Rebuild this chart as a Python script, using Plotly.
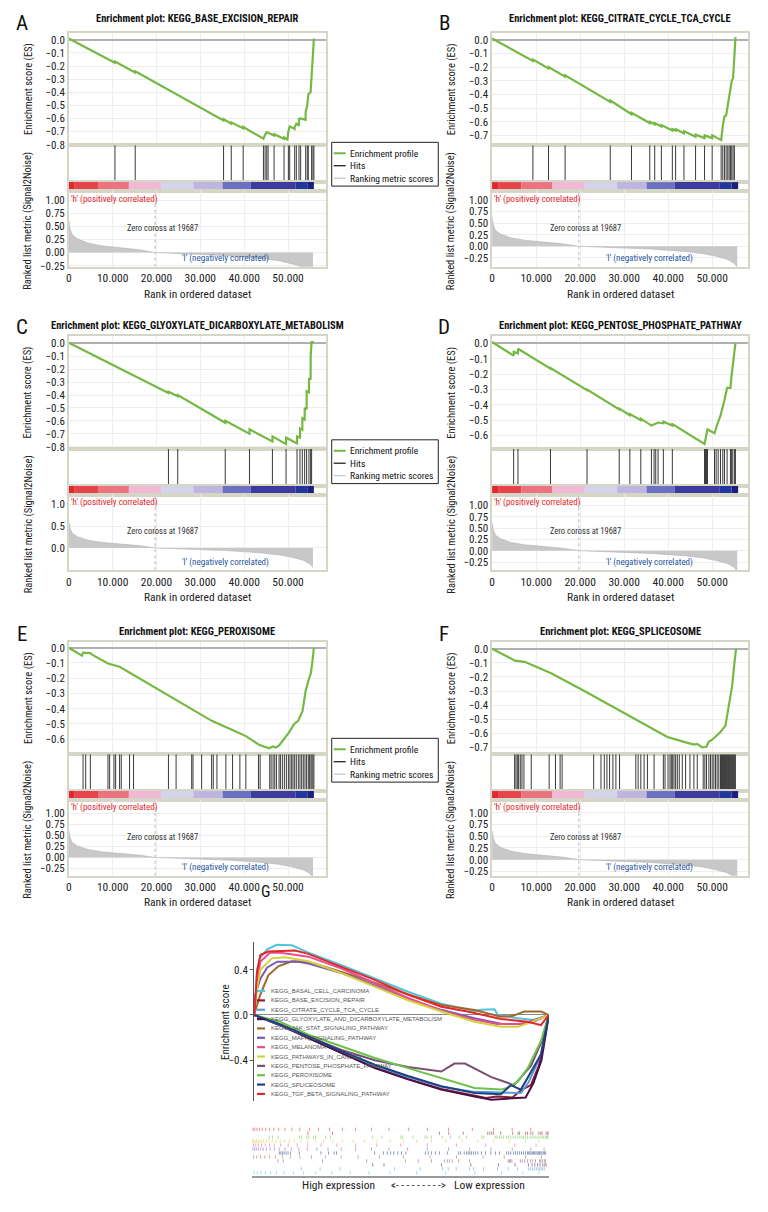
import plotly.graph_objects as go

# ---------------------------------------------------------------- data
X_TICKS = [0, 10000, 20000, 30000, 40000, 50000]
X_TICKTEXT = ["0", "10.000", "20.000", "30.000", "40.000", "50.000"]
ZERO_CROSS = 19687
N_GENES = 55900

METRIC_RANK = [0, 300, 800, 2000, 4400, 7400, 11900, 16400, 19687, 28500, 36000, 43600, 48100, 51100, 53400, 54900, 55700]
METRIC_VAL = [0.62, 0.45, 0.34, 0.26, 0.18, 0.13, 0.09, 0.05, 0.0, -0.03, -0.06, -0.11, -0.16, -0.22, -0.28, -0.36, -0.45]

BAR_EDGES = [0, 1360, 6670, 13710, 21060, 28410, 35080, 41520, 51740, 54390, 55900]
BAR_COLORS = ["#e2262e", "#e6434c", "#ec7480", "#f1b9d6", "#d3d3ea", "#beb5e0",
              "#6b70c2", "#3d3c9e", "#2236a0", "#1d1f7e"]

LEGEND_ITEMS = ["Enrichment profile", "Hits", "Ranking metric scores"]

A_TITLE = "Enrichment plot: KEGG_BASE_EXCISION_REPAIR"
A_ES_RANK = [0, 10500, 10530, 15120, 15150, 35280, 35300, 37030, 37050, 39750, 39770, 44390, 44770,
             45150, 45450, 46800, 46820, 49080, 49090, 49850, 50080, 50380, 51500, 51520, 51890,
             52480, 52500, 52880, 54000, 54020, 54390, 54620, 55150, 55380, 55680, 55900]
A_ES_VAL = [0.01, -0.175, -0.165, -0.25, -0.24, -0.615, -0.605, -0.64, -0.63, -0.675, -0.665, -0.755, -0.725,
            -0.705, -0.71, -0.73, -0.72, -0.755, -0.745, -0.76, -0.70, -0.66, -0.68, -0.665, -0.64,
            -0.655, -0.605, -0.6, -0.61, -0.55, -0.5, -0.415, -0.40, -0.28, -0.06, 0.01]
A_HITS = [10530, 15150, 35300, 37050, 39770, 44390, 44770, 45150, 45450, 46820, 49090, 50080, 50380,
          51520, 51890, 52500, 52880, 54020, 54390, 54620, 55380, 55680, 55900]

B_TITLE = "Enrichment plot: KEGG_CITRATE_CYCLE_TCA_CYCLE"
B_ES_RANK = [0, 9270, 9290, 12820, 12840, 16590, 16610, 26850, 26870, 31670, 31690, 35820, 35840, 36950,
             36970, 38460, 38480, 40950, 40970, 41700, 41720, 43590, 43610, 46230, 46250, 48270, 48290,
             50000, 50020, 52040, 52410, 52790, 53170, 53540, 53850, 54150, 54450, 54750, 55050, 55300]
B_ES_VAL = [0.01, -0.155, -0.145, -0.21, -0.2, -0.27, -0.26, -0.455, -0.445, -0.545, -0.535, -0.61, -0.6, -0.62,
            -0.61, -0.635, -0.625, -0.665, -0.655, -0.665, -0.655, -0.685, -0.67, -0.71, -0.695, -0.72, -0.70,
            -0.72, -0.70, -0.735, -0.63, -0.56, -0.555, -0.48, -0.435, -0.355, -0.30, -0.28, -0.07, 0.02]
B_HITS = [9276, 12820, 16590, 26850, 31670, 35820, 36950, 38460, 40950, 41700, 43590, 46230, 48270, 50000,
          52040, 52410, 52790, 53170, 53540, 53850, 54150, 54450, 54750, 55050]

C_TITLE = "Enrichment plot: KEGG_GLYOXYLATE_DICARBOXYLATE_METABOLISM"
C_ES_RANK = [0, 22730, 22750, 24850, 24870, 35680, 35700, 41210, 41230, 46440, 46460, 49550, 49570, 52050,
             52070, 52730, 52750, 53260, 53280, 53790, 53810, 54240, 54260, 54770, 54790, 55150, 55170, 55380, 55900]
C_ES_VAL = [0.005, -0.385, -0.375, -0.41, -0.40, -0.615, -0.60, -0.70, -0.665, -0.76, -0.72, -0.78, -0.73, -0.775,
            -0.72, -0.73, -0.66, -0.67, -0.58, -0.59, -0.50, -0.51, -0.37, -0.38, -0.27, -0.28, -0.09, 0.01, 0.01]
C_HITS = [22730, 24850, 35680, 41210, 46440, 49550, 52050, 52730, 53260, 53790, 54240, 54770, 55150, 55380]

D_TITLE = "Enrichment plot: KEGG_PENTOSE_PHOSPHATE_PATHWAY"
D_ES_RANK = [0, 4900, 4920, 5880, 5900, 13270, 13290, 21570, 21590, 28880, 28900, 31300, 31320, 33790, 33810,
             36200, 36800, 37180, 37710, 38910, 38930, 40950, 40970, 48260, 48490, 48720, 48940, 50530, 50900,
             51360, 51890, 52410, 52790, 53390, 54150, 54370, 54680, 55050, 55280]
D_ES_VAL = [0.01, -0.08, -0.055, -0.065, -0.035, -0.165, -0.16, -0.305, -0.30, -0.43, -0.425, -0.468, -0.46, -0.50,
            -0.49, -0.535, -0.525, -0.52, -0.515, -0.52, -0.51, -0.535, -0.525, -0.655, -0.62, -0.59, -0.56, -0.585,
            -0.545, -0.51, -0.47, -0.42, -0.37, -0.29, -0.29, -0.22, -0.15, -0.08, 0.0]
D_HITS = [4900, 5880, 13270, 21570, 28880, 31300, 33790, 36200, 36800, 37180, 37710, 38910, 40950, 48260, 48490,
          48720, 48940, 50530, 50900, 51360, 51890, 52410, 52790, 53390, 54150, 54370, 54680, 55050, 55280]

E_TITLE = "Enrichment plot: KEGG_PEROXISOME"
E_ES_RANK = [0, 3000, 3260, 4920, 5300, 8940, 11600, 14800, 22700, 28000, 32600, 37300, 40400, 43400, 45700,
             46500, 47300, 48000, 49100, 50200, 51400, 52300, 53300, 54000, 54600, 55200, 55600, 55900]
E_ES_VAL = [0.0, -0.052, -0.032, -0.035, -0.045, -0.103, -0.125, -0.18, -0.31, -0.405, -0.48, -0.54, -0.58, -0.637,
            -0.66, -0.648, -0.655, -0.64, -0.60, -0.557, -0.50, -0.48, -0.416, -0.286, -0.22, -0.167, -0.08, 0.0]
E_HITS = [3260, 3860, 4920, 8940, 9320, 10300, 10680, 11590, 11970, 13860, 14770, 22730, 24470, 28030, 28330,
          30300, 32580, 32950, 33790, 35830, 37350, 39020, 40380, 43260, 43640, 45830, 46140, 46590, 46970, 47350,
          47950, 48260, 48710, 49170, 49620, 50080, 50450, 50830, 51140, 51520, 51890, 52350, 52730, 53110, 53480,
          53860, 54240, 54620, 54920, 55230, 55450, 55680, 55900]

F_TITLE = "Enrichment plot: KEGG_SPLICEOSOME"
F_ES_RANK = [0, 4980, 5200, 7390, 13420, 20960, 28500, 34540, 39820, 43590, 45850, 46600, 47740, 48700, 49200,
             50000, 51890, 53020, 53770, 54520, 55050, 55430]
F_ES_VAL = [0.0, -0.081, -0.085, -0.093, -0.174, -0.30, -0.43, -0.54, -0.626, -0.66, -0.68, -0.675, -0.70, -0.695,
            -0.66, -0.645, -0.59, -0.545, -0.405, -0.267, -0.104, 0.0]
F_HITS = [5130, 5430, 5730, 6030, 6410, 6790, 7240, 8900, 12970, 14400, 15460, 15910, 23080, 24740, 25490, 26090,
          26700, 27450, 28130, 28960, 32650, 33180, 33790, 34540, 35290, 36800, 38910, 39290, 39970, 40420, 40720,
          41030, 41330, 41700, 42080, 42530, 43210, 43970, 44950, 45850, 46610, 47960, 48340, 48720, 49250, 49620,
          50000, 50380, 50750, 51130, 51510, 51890, 52110, 52340, 52560, 52790, 53020, 53240, 53470, 53700, 53920,
          54150, 54370, 54600, 54830, 55050, 55280]

# ---- panel G (multi-pathway running enrichment scores)
G_NAMES = ["KEGG_BASAL_CELL_CARCINOMA", "KEGG_BASE_EXCISION_REPAIR", "KEGG_CITRATE_CYCLE_TCA_CYCLE",
           "KEGG_GLYOXYLATE_AND_DICARBOXYLATE_METABOLISM", "KEGG_JAK_STAT_SIGNALING_PATHWAY",
           "KEGG_MAPK_SIGNALING_PATHWAY", "KEGG_MELANOMA", "KEGG_PATHWAYS_IN_CANCER",
           "KEGG_PENTOSE_PHOSPHATE_PATHWAY", "KEGG_PEROXISOME", "KEGG_SPLICEOSOME",
           "KEGG_TGF_BETA_SIGNALING_PATHWAY"]
G_COLORS = ["#4fc4da", "#8c1c35", "#5b9bd5", "#4a1242", "#a0682c", "#7d58b5", "#e8508c", "#d4d23a",
            "#7a5072", "#6cc24a", "#1f3f85", "#e3262a"]

G_BASAL_R = [0, 250, 570, 1100, 2500, 4300, 7200, 10300, 16600, 22900, 29200, 35500, 41800, 43000, 45600, 46200, 50000, 53100, 55900]
G_BASAL_V = [0, 0.1, 0.4, 0.5, 0.58, 0.62, 0.615, 0.55, 0.44, 0.32, 0.205, 0.10, 0.035, 0.045, 0.05, 0.0, -0.03, -0.045, 0.0]
G_BER_R = [0, 4900, 10300, 16600, 22900, 29200, 35500, 41800, 44000, 46000, 49000, 50500, 52500, 54000, 55900]
G_BER_V = [0, -0.088, -0.2, -0.335, -0.46, -0.565, -0.655, -0.71, -0.735, -0.72, -0.73, -0.67, -0.62, -0.45, 0.0]
G_TCA_R = [0, 4900, 10300, 16600, 22900, 29200, 35500, 41800, 46800, 50600, 52000, 53500, 54800, 55900]
G_TCA_V = [0, -0.09, -0.2, -0.33, -0.45, -0.55, -0.635, -0.68, -0.685, -0.69, -0.6, -0.45, -0.3, 0.0]
G_GLY_R = [0, 4900, 10300, 16600, 22900, 29200, 35500, 41800, 45000, 48000, 51500, 53000, 54500, 55900]
G_GLY_V = [0, -0.09, -0.205, -0.34, -0.47, -0.57, -0.66, -0.72, -0.75, -0.74, -0.73, -0.6, -0.4, 0.0]
G_JAK_R = [0, 1200, 2700, 4600, 7200, 10300, 16600, 22900, 29200, 35500, 41800, 43100, 46800, 49000, 51200, 54400, 55900]
G_JAK_V = [0, 0.18, 0.35, 0.43, 0.475, 0.47, 0.38, 0.285, 0.18, 0.088, 0.044, 0.03, -0.015, -0.01, 0.03, 0.03, 0.0]
G_MAPK_R = [0, 250, 1200, 2500, 4400, 8400, 10300, 16600, 22900, 29200, 35500, 41800, 47000, 51000, 55900]
G_MAPK_V = [0, 0.18, 0.32, 0.42, 0.47, 0.47, 0.455, 0.37, 0.26, 0.14, 0.045, -0.03, -0.08, -0.08, 0.0]
G_MEL_R = [0, 570, 1200, 3000, 5000, 10300, 16600, 22900, 29200, 35500, 40500, 46000, 50000, 53000, 55900]
G_MEL_V = [0, 0.29, 0.47, 0.55, 0.55, 0.515, 0.41, 0.28, 0.15, 0.04, -0.03, -0.08, -0.08, -0.06, 0.0]
G_PIC_R = [0, 570, 1200, 3400, 5900, 10300, 16600, 22900, 29200, 35500, 41800, 46800, 50000, 51900, 55900]
G_PIC_V = [0, 0.23, 0.40, 0.50, 0.51, 0.475, 0.37, 0.25, 0.13, 0.03, -0.06, -0.105, -0.105, -0.075, 0.0]
G_PPP_R = [0, 4900, 10300, 16600, 22900, 29200, 35500, 38000, 40000, 45000, 49300, 50600, 52500, 54400, 55900]
G_PPP_V = [0, -0.09, -0.19, -0.31, -0.40, -0.46, -0.50, -0.43, -0.43, -0.55, -0.62, -0.55, -0.45, -0.25, 0.0]
G_PER_R = [0, 4900, 10300, 16600, 22900, 29200, 35500, 41800, 46800, 48000, 50000, 51900, 54400, 55900]
G_PER_V = [0, -0.06, -0.175, -0.28, -0.38, -0.47, -0.56, -0.645, -0.66, -0.645, -0.59, -0.47, -0.23, 0.0]
G_SPL_R = [0, 4900, 10300, 16600, 22900, 29200, 35500, 41800, 46800, 48700, 50600, 51900, 53100, 54400, 55900]
G_SPL_V = [0, -0.082, -0.19, -0.32, -0.44, -0.54, -0.63, -0.69, -0.70, -0.62, -0.66, -0.55, -0.45, -0.35, 0.0]
G_TGF_R = [0, 130, 570, 1200, 2700, 7800, 10300, 16600, 22900, 29200, 35500, 40500, 46800, 51900, 54400, 55900]
G_TGF_V = [0, 0.04, 0.38, 0.53, 0.56, 0.57, 0.54, 0.425, 0.31, 0.18, 0.073, 0.03, -0.035, -0.06, -0.09, 0.0]

BASAL_HITS = [400, 1000, 1700, 2500, 3500, 4600, 6000, 7800, 9700, 12000, 15000, 18500, 22000, 26000, 31000,
              36500, 42000, 47000, 51000, 54000]
PIC_HITS = [100, 300, 550, 800, 1100, 1450, 1800, 2200, 2700, 3200, 3800, 4500, 5300, 6100, 7000, 8000, 9200,
            10500, 12000, 13500, 15200, 17000, 19000, 21200, 23500, 26000, 28500, 31000, 33800, 36500, 39500,
            42500, 45500, 48500, 51500, 54000]
MEL_HITS = [250, 700, 1200, 1800, 2500, 3300, 4200, 5400, 6800, 8500, 10500, 13000, 16000, 19500, 23500, 28000,
            33000, 38500, 44000, 49500, 53500]
MAPK_HITS = [150, 450, 800, 1200, 1650, 2100, 2700, 3400, 4200, 5100, 6200, 7400, 8800, 10400, 12200, 14300,
             16800, 19500, 22500, 25800, 29300, 33000, 37000, 41000, 45000, 49000, 52500, 55000]
JAK_HITS = [300, 900, 1600, 2400, 3300, 4400, 5700, 7200, 9000, 11200, 13800, 16800, 20000, 24000, 28500, 33500,
            38500, 43500, 47500, 51500, 54500]
TGF_HITS = [200, 500, 900, 1400, 1900, 2600, 3300, 4100, 5000, 6200, 7500, 9000, 10800, 12500, 14600, 17000,
            19500, 22500, 25800, 29500, 33000, 37000, 41500, 45500, 49000, 52500]

# ---------------------------------------------------------------- layout helpers
# the html page keeps an 8 px body margin, so the figure is drawn 8 px in from the top-left
OFF = 8
W, H = 768 - 2 * OFF, 1212 - 2 * OFF
NARROW = "Liberation Sans Narrow, Arial Narrow, Roboto Condensed, DejaVu Sans Condensed, sans-serif"
ARIAL = "Liberation Sans, Arial, sans-serif"


def fx(p):
    return (p - OFF) / W


def fy(p):
    return 1 - (p - OFF) / H


fig = go.Figure()
layout = {}
annotations = []
shapes = []


def ann(text, x, y, size=11, color="#222", xanchor="center", yanchor="middle", angle=0,
        family=NARROW, xref="paper"):
    annotations.append(dict(text=text, x=fx(x) if xref == "paper" else x, y=fy(y), xref=xref,
                            yref="paper", showarrow=False, xanchor=xanchor, yanchor=yanchor,
                            textangle=angle, borderpad=0,
                            font=dict(size=size, color=color, family=family)))


def ids(k):
    s = "" if k == 1 else str(k)
    return "x" + s, "y" + s, "xaxis" + s, "yaxis" + s


FRAME = dict(showline=True, mirror=True, linecolor="#d6d6c6", linewidth=1.5, ticks="",
             zeroline=False)
TICKFONT = dict(size=11, family=NARROW, color="#222")

PANELS = [
    ("A", A_TITLE, A_ES_RANK, A_ES_VAL, A_HITS),
    ("B", B_TITLE, B_ES_RANK, B_ES_VAL, B_HITS),
    ("C", C_TITLE, C_ES_RANK, C_ES_VAL, C_HITS),
    ("D", D_TITLE, D_ES_RANK, D_ES_VAL, D_HITS),
    ("E", E_TITLE, E_ES_RANK, E_ES_VAL, E_HITS),
    ("F", F_TITLE, F_ES_RANK, F_ES_VAL, F_HITS),
]
COL_LR = [(66, 324), (491, 748)]
X_MAX = [58600, 58150]
ROW_DY = [0, 305, 612]
Y_ES, Y_HIT, Y_BAR, Y_MET = (33, 146), (146, 183), (183, 192), (192, 268)
ES_RANGE = [(-0.805, 0.053), (-0.773, 0.051), (-0.816, 0.054), (-0.686, 0.046), (-0.699, 0.039), (-0.748, 0.049)]
MET_RANGE = [(-0.27, 1.17), (-0.44, 1.19), (-0.51, 1.23), (-0.43, 1.24), (-0.415, 1.31), (-0.34, 1.27)]
MET_TICKS = [1.0, 0.75, 0.5, 0.25, 0.0, -0.25]
MET_TICKS_C = [1.0, 0.5, 0.0]
LABEL_X = [19, 443]
LABEL_Y = [23, 329, 637]
TITLE_Y = [19, 327, 635]
YTITLE_X = [25, 450]
LEG_TOP = [143, 442, 742]
LEG_COLORS = ["#75b843", "#222222", "#c8c8c8"]
ES_GREEN = "#75b843"

bar_x = [(a + b) / 2 for a, b in zip(BAR_EDGES[:-1], BAR_EDGES[1:])]
bar_w = [b - a for a, b in zip(BAR_EDGES[:-1], BAR_EDGES[1:])]

for i, (label, title, es_r, es_v, hits) in enumerate(PANELS):
    c, r = i % 2, i // 2
    x0, x1 = COL_LR[c]
    dy = ROW_DY[r]
    xdom = [fx(x0), fx(x1)]
    xr = [0, X_MAX[c]]
    k = 4 * i + 1
    # --- ES axis
    xs, ys, xa, ya = ids(k)
    layout[xa] = dict(domain=xdom, range=xr, anchor=ys, tickvals=X_TICKS, showticklabels=False,
                      showgrid=True, gridcolor="#eeeeee", **FRAME)
    layout[ya] = dict(domain=[fy(Y_ES[1] + dy), fy(Y_ES[0] + dy)], range=list(ES_RANGE[i]), anchor=xs,
                      dtick=0.1, tick0=0, tickformat=".1f", showgrid=True, gridcolor="#eeeeee",
                      tickfont=TICKFONT, showline=True, mirror=True, linecolor="#d6d6c6", linewidth=1.5,
                      ticks="", zeroline=True, zerolinecolor="#b0b0b0", zerolinewidth=1.5)
    fig.add_trace(go.Scatter(x=es_r, y=es_v, mode="lines", line=dict(color=ES_GREEN, width=2.2),
                             xaxis=xs, yaxis=ys, hoverinfo="skip"))
    # --- hits axis
    xs, ys, xa, ya = ids(k + 1)
    layout[xa] = dict(domain=xdom, range=xr, anchor=ys, showticklabels=False, showgrid=False, **FRAME)
    layout[ya] = dict(domain=[fy(Y_HIT[1] + dy), fy(Y_HIT[0] + dy)], range=[0, 1], anchor=xs,
                      showticklabels=False, showgrid=False, **FRAME)
    hx, hy = [], []
    for h in hits:
        hx += [h, h, None]
        hy += [0, 1, None]
    fig.add_trace(go.Scatter(x=hx, y=hy, mode="lines", line=dict(color="#3a3a3a", width=1),
                             xaxis=xs, yaxis=ys, hoverinfo="skip"))
    # --- colour bar axis
    xs, ys, xa, ya = ids(k + 2)
    layout[xa] = dict(domain=xdom, range=xr, anchor=ys, showticklabels=False, showgrid=False, **FRAME)
    layout[ya] = dict(domain=[fy(Y_BAR[1] + dy), fy(Y_BAR[0] + dy)], range=[0, 1], anchor=xs,
                      showticklabels=False, showgrid=False, **FRAME)
    fig.add_trace(go.Bar(x=bar_x, y=[1] * len(bar_x), width=bar_w, base=0,
                         marker=dict(color=BAR_COLORS, line=dict(width=0)),
                         xaxis=xs, yaxis=ys, hoverinfo="skip"))
    # --- ranked metric axis
    xs, ys, xa, ya = ids(k + 3)
    met_bottom = Y_MET[1] + dy
    layout[xa] = dict(domain=xdom, range=xr, anchor=ys, tickvals=X_TICKS, ticktext=X_TICKTEXT,
                      tickfont=dict(size=11.5, family=NARROW, color="#222"),
                      showgrid=True, gridcolor="#eeeeee", **FRAME)
    mt = MET_TICKS_C if label == "C" else MET_TICKS
    layout[ya] = dict(domain=[fy(met_bottom), fy(Y_MET[0] + dy)], range=list(MET_RANGE[i]), anchor=xs,
                      tickvals=mt, tickformat=".1f" if label == "C" else ".2f", tickfont=TICKFONT,
                      showgrid=True, gridcolor="#eeeeee", **FRAME)
    fig.add_trace(go.Scatter(x=METRIC_RANK, y=METRIC_VAL, mode="lines", fill="tozeroy",
                             fillcolor="#c8c8c8", line=dict(color="#b4b4b4", width=0.6),
                             xaxis=xs, yaxis=ys, hoverinfo="skip"))
    fig.add_trace(go.Scatter(x=[ZERO_CROSS, ZERO_CROSS], y=list(MET_RANGE[i]), mode="lines",
                             line=dict(color="#cfcfcf", width=1.5, dash="dot"),
                             xaxis=xs, yaxis=ys, hoverinfo="skip"))
    # --- texts
    met_top = Y_MET[0] + dy
    ann(label, LABEL_X[c], LABEL_Y[r], size=21, color="#111")
    ann("<b>" + title + "</b>", (x0 + x1) / 2, TITLE_Y[r], size=10.5, color="#111")
    ann("Enrichment score (ES)", YTITLE_X[c], (Y_ES[0] + Y_ES[1]) / 2 + dy, size=10.5, angle=-90)
    ann("Ranked list metric (Signal2Noise)", YTITLE_X[c], 222 + dy, size=10.5, angle=-90)
    ann("Rank in ordered dataset", (x0 + x1) / 2, 295 + dy, size=11.5)
    ann("'h' (positively correlated)", x0 + 1, met_top + 8, size=9, color="#e2262a", xanchor="left")
    ann("Zero coross at 19687", 21300, met_top + 37, size=8.5, color="#333", xref=xs)
    ann("'l' (negatively correlated)", 35700, met_top + 68, size=9, color="#2a56a0", xref=xs)

# --- manual legends (shared between the two columns)
for top in LEG_TOP:
    shapes.append(dict(type="rect", xref="paper", yref="paper", x0=fx(330), x1=fx(437),
                       y0=fy(top + 44), y1=fy(top), line=dict(color="#222", width=1), fillcolor="white"))
    for j, (name, col) in enumerate(zip(LEGEND_ITEMS, LEG_COLORS)):
        yy = top + 11 + 12.5 * j
        shapes.append(dict(type="line", xref="paper", yref="paper", x0=fx(332), x1=fx(344),
                           y0=fy(yy), y1=fy(yy), line=dict(color=col, width=2 if j == 0 else 1.3)))
        ann(name, 347, yy, size=9.5, color="#111", xanchor="left")

# ---------------------------------------------------------------- panel G
G_CURVES = [(G_BASAL_R, G_BASAL_V), (G_BER_R, G_BER_V), (G_TCA_R, G_TCA_V), (G_GLY_R, G_GLY_V),
            (G_JAK_R, G_JAK_V), (G_MAPK_R, G_MAPK_V), (G_MEL_R, G_MEL_V), (G_PIC_R, G_PIC_V),
            (G_PPP_R, G_PPP_V), (G_PER_R, G_PER_V), (G_SPL_R, G_SPL_V), (G_TGF_R, G_TGF_V)]
G_HITS = [BASAL_HITS, A_HITS, B_HITS, C_HITS, JAK_HITS, MAPK_HITS, MEL_HITS, PIC_HITS, D_HITS, E_HITS,
          F_HITS, TGF_HITS]
G_ROW = [11, 1, 10, 9, 7, 5, 4, 3, 8, 2, 6, 0]  # strip row for each pathway (0 = top)

G_X = (252, 548)
kg = 25
xs, ys, xa, ya = ids(kg)
layout[xa] = dict(domain=[fx(G_X[0]), fx(G_X[1])], range=[0, N_GENES], anchor=ys, showline=False,
                  showticklabels=False, showgrid=False, zeroline=False, ticks="")
layout[ya] = dict(domain=[fy(1107), fy(947)], range=[-0.765, 0.642], anchor=xs, dtick=0.4, tick0=0,
                  tickformat=".1f", showgrid=False, showline=True, linecolor="#555", linewidth=1,
                  zeroline=True, zerolinecolor="#8a8a8a", zerolinewidth=1, ticks="outside", ticklen=3,
                  tickcolor="#555", tickfont=dict(size=11, family=NARROW, color="#222"))
for (gr, gv), col in zip(G_CURVES, G_COLORS):
    fig.add_trace(go.Scatter(x=gr, y=gv, mode="lines", line=dict(color=col, width=2),
                             xaxis=xs, yaxis=ys, hoverinfo="skip"))

xs2, ys2, xa2, ya2 = ids(kg + 1)
layout[xa2] = dict(domain=[fx(G_X[0] - 2), fx(G_X[1])], range=[0, N_GENES], anchor=ys2, showline=True,
                   linecolor="#9a9a9a", linewidth=1.5, showticklabels=False, showgrid=False,
                   zeroline=False, ticks="")
layout[ya2] = dict(domain=[fy(1182), fy(1133)], range=[-0.3, 12], anchor=xs2, showline=False,
                   showticklabels=False, showgrid=False, zeroline=False, ticks="")
for hits, col, row in zip(G_HITS, G_COLORS, G_ROW):
    hx, hy = [], []
    for h in hits:
        hx += [h, h, None]
        hy += [11 - row + 0.1, 11 - row + 0.95, None]
    fig.add_trace(go.Scatter(x=hx, y=hy, mode="lines", line=dict(color=col, width=1), opacity=0.5,
                             xaxis=xs2, yaxis=ys2, hoverinfo="skip"))

# legend of G (drawn manually, tight spacing as in the source)
for j, (name, col) in enumerate(zip(G_NAMES, G_COLORS)):
    yy = 996 + 9.4 * j
    shapes.append(dict(type="line", xref="paper", yref="paper", x0=fx(255), x1=fx(263),
                       y0=fy(yy), y1=fy(yy), line=dict(color=col, width=2.2)))
    ann(name, 268, yy, size=6, color="#555", xanchor="left", family=ARIAL)

ann("G", 264, 896, size=16, color="#111")
ann("Enrichment score", 224, 1027, size=11, angle=-90)
ann("High expression", 337, 1191, size=11.5)
ann("<- - - - - - - - ->", 417, 1191, size=11)
ann("Low expression", 488, 1191, size=11.5)

fig.update_layout(width=W, height=H, autosize=False, margin=dict(l=0, r=0, t=0, b=0),
                  paper_bgcolor="white", plot_bgcolor="white", showlegend=False,
                  annotations=annotations, shapes=shapes, font=dict(family=NARROW), **layout)
fig.write_html("out.html")
